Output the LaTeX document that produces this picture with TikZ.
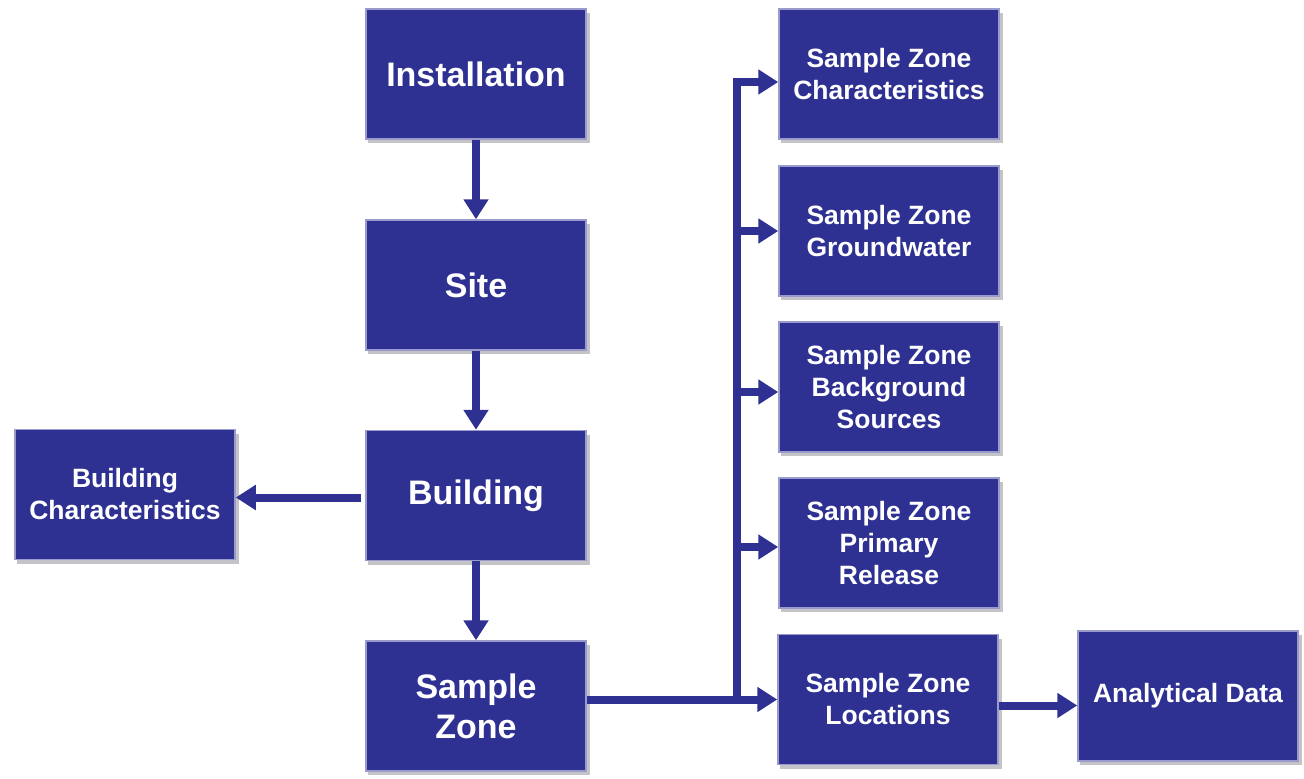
\documentclass[tikz,border=0pt]{standalone}
\usepackage{fontspec}
\setmainfont{Liberation Sans}
\usetikzlibrary{arrows.meta}
\definecolor{boxblue}{HTML}{2E3192}
\definecolor{boxedge}{HTML}{9A9ACD}
\definecolor{shadowgray}{HTML}{C4C4C8}
\tikzset{
  flowbox/.style={draw=boxedge, line width=1.5pt, fill=boxblue, text=white,
    font=\bfseries, align=center, inner sep=0pt,
    minimum width=220pt, minimum height=130pt},
  bigtext/.style={font=\fontsize{34}{40}\selectfont\bfseries},
  smalltext/.style={font=\fontsize{26.5}{32}\selectfont\bfseries},
  conn/.style={draw=boxblue, line width=8pt, line join=miter},
  arr/.style={conn, -{Triangle[width=24pt,length=20pt]}},
}
\begin{document}
\begin{tikzpicture}[x=1pt,y=-1pt]
\useasboundingbox (0,0) rectangle (1304,779);
\fill[white] (0,0) rectangle (1304,779);
% shadows
\foreach \cx/\cy in {476/74, 476/285, 476/495.5, 476/706, 125/494.5, 889/74, 889/231, 889/387, 889/543, 888/699.5, 1188/696}{
  \fill[shadowgray] (\cx-108,\cy-61) rectangle (\cx+114,\cy+69);
}
% main column
\node[flowbox, bigtext] (inst) at (476,74) {Installation};
\node[flowbox, bigtext] (site) at (476,285) {Site};
\node[flowbox, bigtext] (bldg) at (476,495.5) {Building};
\node[flowbox, bigtext] (sz) at (476,706) {Sample\\Zone};
\node[flowbox, smalltext] (bc) at (125,494.5) {Building\\Characteristics};
% right column
\node[flowbox, smalltext] (r1) at (889,74) {Sample Zone\\Characteristics};
\node[flowbox, smalltext] (r2) at (889,231) {Sample Zone\\Groundwater};
\node[flowbox, smalltext] (r3) at (889,387) {Sample Zone\\Background\\Sources};
\node[flowbox, smalltext] (r4) at (889,543) {Sample Zone\\Primary\\Release};
\node[flowbox, smalltext] (r5) at (888,699.5) {Sample Zone\\Locations};
\node[flowbox, font=\fontsize{26.5}{32}\selectfont\bfseries] (ad) at (1188,696) {Analytical Data};
% connectors
\draw[arr] (inst.south) -- (site.north);
\draw[arr] (site.south) -- (bldg.north);
\draw[arr] (bldg.south) -- (sz.north);
\draw[arr] ([xshift=-4pt,yshift=-2pt]bldg.west) -- ([yshift=-2pt]bldg.west -| bc.east);
\draw[arr] (sz.east |- r5.west) -- (r5.west);
\coordinate (tb) at (737,699.5);
\draw[arr] (tb) |- ([yshift=-8pt]r1.west);
\draw[arr] (tb |- r2.west) -- (r2.west);
\draw[arr] ([yshift=-5pt]tb |- r3.west) -- ([yshift=-5pt]r3.west);
\draw[arr] ([yshift=-4pt]tb |- r4.west) -- ([yshift=-4pt]r4.west);
\draw[arr] ([yshift=-6pt]r5.east) -- ([yshift=-6pt]r5.east -| ad.west);
\end{tikzpicture}
\end{document}
